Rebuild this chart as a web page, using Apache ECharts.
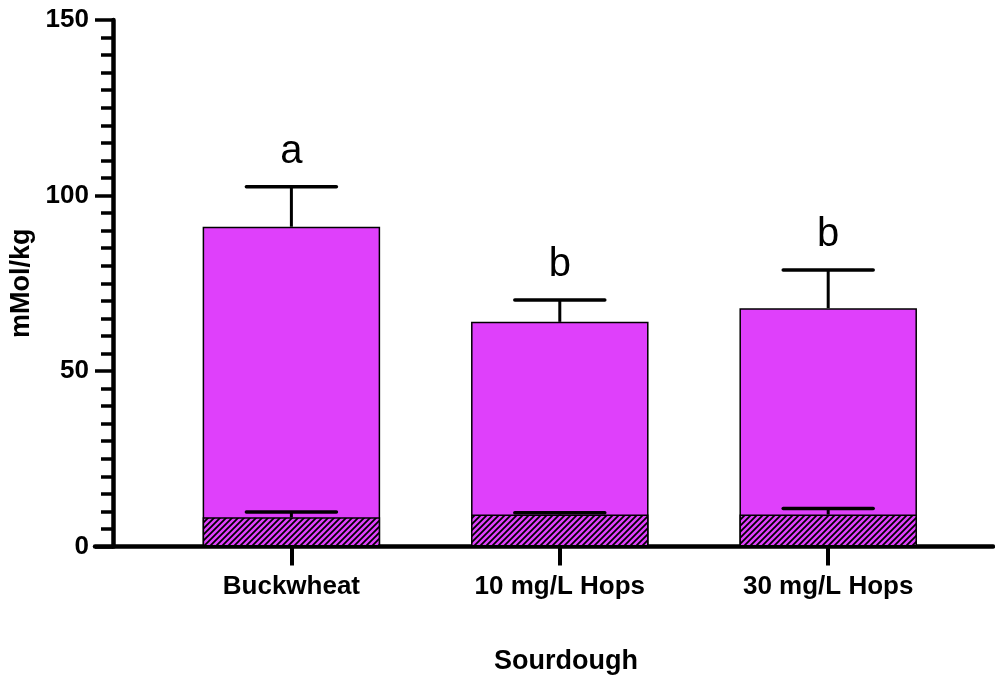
<!DOCTYPE html>
<html>
<head>
<meta charset="utf-8">
<script src="https://cdn.jsdelivr.net/npm/echarts@6/dist/echarts.min.js"></script>
<style>
html,body{margin:0;padding:0;background:#fff;}
#chart{width:995px;height:681px;}
</style>
</head>
<body>
<div id="chart"></div>
<script>
// data
var categories = ['Buckwheat', '10 mg/L Hops', '30 mg/L Hops'];
var totalMean = [91.1, 64.0, 67.9];
var totalUpper = [102.5, 70.2, 78.8];
var baseMean = [8.3, 9.1, 9.1];
var baseUpper = [9.8, 9.6, 10.8];
var letters = ['a', 'b', 'b'];
var yTicks = [0, 50, 100, 150];

var FONT = '"Liberation Sans", Arial, Helvetica, sans-serif';
var BAR = '#DF40FB';

// hatch tile for the lower bars
function hatchTile() {
	var c = document.createElement('canvas');
	c.width = 6; c.height = 6;
	var g = c.getContext('2d');
	g.fillStyle = BAR;
	g.fillRect(0, 0, 6, 6);
	g.strokeStyle = '#000';
	g.lineWidth = 1.8;
	g.beginPath();
	g.moveTo(-1, 7); g.lineTo(7, -1);
	g.moveTo(-4, 4); g.lineTo(4, -4);
	g.moveTo(2, 10); g.lineTo(10, 2);
	g.stroke();
	return c;
}

function pairs(arr) {
	return arr.map(function (v, i) { return [i, v]; });
}

function errorItem(means, uppers, withLetter) {
	return function (params, api) {
		var i = api.value(0);
		var top = api.coord([i, uppers[i]]);
		var bot = api.coord([i, means[i]]);
		var half = 45;
		var kids = [
			{ type: 'line', shape: { x1: top[0], y1: bot[1], x2: top[0], y2: top[1] },
				style: { stroke: '#000', lineWidth: 3 } },
			{ type: 'line', shape: { x1: top[0] - half, y1: top[1], x2: top[0] + half, y2: top[1] },
				style: { stroke: '#000', lineWidth: 3.5, lineCap: 'round' } }
		];
		if (withLetter) {
			kids.push({ type: 'text', x: top[0], y: top[1] - 15,
				style: { text: letters[i], fill: '#000', font: '40px ' + FONT,
					textAlign: 'center', textVerticalAlign: 'bottom' } });
		}
		return { type: 'group', children: kids };
	};
}

var chart = echarts.init(document.getElementById('chart'));
var option = {
	backgroundColor: '#fff',
	animation: false,
	grid: { left: 95, right: 2, top: 20, height: 526.5, outerBoundsMode: 'none', containLabel: false },
	xAxis: {
		type: 'value',
		min: -0.7317,
		max: 2.614,
		name: 'Sourdough',
		nameLocation: 'middle',
		nameGap: 102,
		nameTextStyle: { fontFamily: FONT, fontWeight: 'bold', fontSize: 27, color: '#000', padding: [0, 0, 0, 44] },
		axisLine: { show: true, onZero: false, lineStyle: { color: '#000', width: 4.5 } },
		axisTick: { show: true, customValues: [0, 1, 2], length: 19, lineStyle: { color: '#000', width: 4 } },
		axisLabel: { customValues: [0, 1, 2], margin: 27, color: '#000', fontFamily: FONT, fontWeight: 'bold', fontSize: 26,
			formatter: function (v) { return categories[Math.round(v)]; } },
		splitLine: { show: false }
	},
	yAxis: {
		type: 'value',
		min: yTicks[0],
		max: yTicks[yTicks.length - 1],
		interval: 50,
		offset: -18,
		name: 'mMol/kg',
		nameLocation: 'middle',
		nameGap: 76,
		nameTextStyle: { fontFamily: FONT, fontWeight: 'bold', fontSize: 27, color: '#000' },
		axisLine: { show: true, onZero: false, lineStyle: { color: '#000', width: 4.5 } },
		axisTick: { show: true, length: 18, lineStyle: { color: '#000', width: 3.5 } },
		minorTick: { show: true, splitNumber: 10, length: 12, lineStyle: { color: '#000', width: 3.5 } },
		axisLabel: { margin: 24, color: '#000', fontFamily: FONT, fontWeight: 'bold', fontSize: 26 },
		splitLine: { show: false }
	},
	series: [
		{
			type: 'bar',
			data: pairs(totalMean),
			barWidth: 177.5,
			barGap: '-100%',
			itemStyle: { color: BAR, borderColor: '#000', borderWidth: 1.5 },
			z: 2
		},
		{
			type: 'bar',
			data: pairs(baseMean),
			barWidth: 177.5,
			barGap: '-100%',
			itemStyle: { color: { image: hatchTile(), repeat: 'repeat' }, borderColor: '#000', borderWidth: 1.5 },
			z: 3
		},
		{
			type: 'custom',
			data: pairs(totalUpper),
			renderItem: errorItem(totalMean, totalUpper, true),
			z: 4
		},
		{
			type: 'custom',
			data: pairs(baseUpper),
			renderItem: errorItem(baseMean, baseUpper, false),
			z: 4
		}
	]
};
chart.setOption(option);
</script>
</body>
</html>
